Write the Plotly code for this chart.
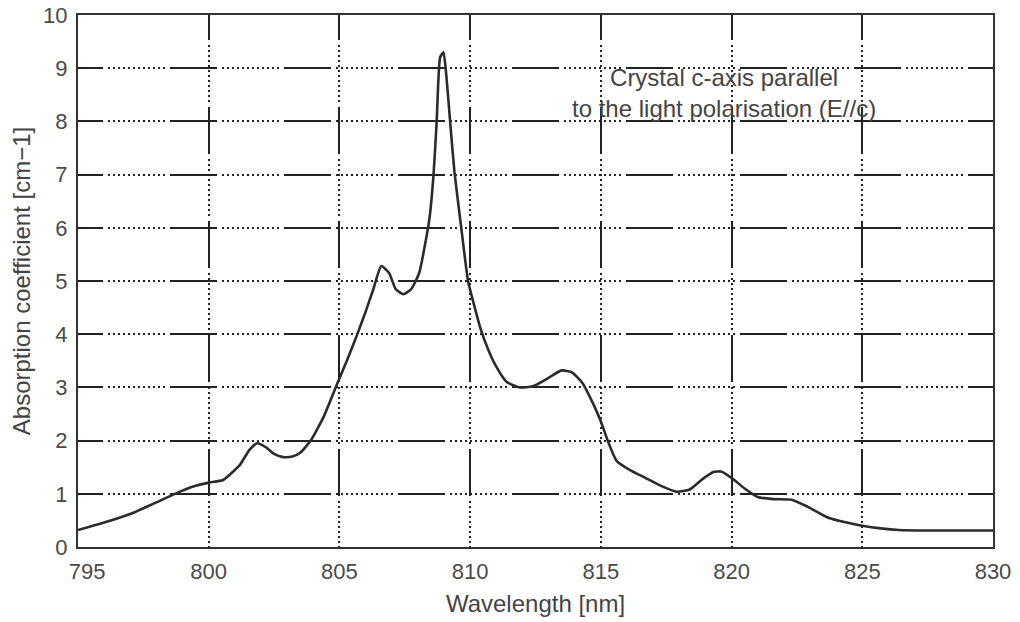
import plotly.graph_objects as go

# Data
wavelength = [795.0, 796.0, 797.1, 798.0, 798.9, 799.5, 800.0, 800.55, 801.2, 801.55, 801.85,
              802.2, 802.5, 802.85, 803.2, 803.5, 803.9, 804.4, 804.9, 805.3, 805.7, 806.0,
              806.3, 806.6, 806.9, 807.15, 807.45, 807.75, 808.05, 808.3, 808.45, 808.6,
              808.72, 808.85, 808.98, 809.1, 809.25, 809.4, 809.66, 809.92, 810.15, 810.4,
              810.7, 811.0, 811.4, 811.9, 812.4, 812.9, 813.5, 813.9, 814.3, 814.7, 815.0,
              815.3, 815.6, 816.1, 816.7, 817.3, 817.9, 818.4, 818.9, 819.3, 819.6, 820.0,
              820.5, 821.0, 821.6, 822.3, 822.9, 823.7, 824.4, 825.0, 825.7, 826.4, 827.5,
              829.0, 830.0]
absorption = [0.32, 0.46, 0.64, 0.84, 1.04, 1.15, 1.21, 1.26, 1.55, 1.82, 1.95,
              1.87, 1.75, 1.69, 1.70, 1.77, 2.0, 2.45, 3.05, 3.52, 4.02, 4.42,
              4.85, 5.28, 5.15, 4.85, 4.75, 4.85, 5.15, 5.75, 6.2, 7.0,
              8.0, 9.2, 9.3, 8.8, 7.9, 7.05, 6.0, 5.0, 4.55, 4.1,
              3.7, 3.39, 3.1, 3.0, 3.02, 3.15, 3.32, 3.28, 3.08, 2.7, 2.36,
              1.95, 1.62, 1.45, 1.3, 1.15, 1.04, 1.08, 1.28, 1.41, 1.42, 1.3,
              1.1, 0.94, 0.9, 0.89, 0.76, 0.55, 0.46, 0.4, 0.35, 0.32, 0.31,
              0.31, 0.31]

x_ticks = [795, 800, 805, 810, 815, 820, 825, 830]
x_tick_text = ["\u00a0\u00a0\u00a0795", "800", "805", "810", "815", "820", "825", "830"]
y_ticks = [0, 1, 2, 3, 4, 5, 6, 7, 8, 9, 10]

note_text = "Crystal c-axis parallel<br>to the light polarisation (E//c)"
x_title = "Wavelength [nm]"
y_title = "Absorption coefficient [cm\u22121]"

dash_pattern = "25px,5px" + ",2px,3px" * 11 + ",2px,5px,22px,0px"

FONT = "Liberation Sans, Arial, sans-serif"

fig = go.Figure()
fig.add_trace(go.Scatter(
    x=wavelength, y=absorption, mode="lines",
    line=dict(color="#2b2b2b", width=2.6, shape="spline", smoothing=0.5),
    showlegend=False, hoverinfo="skip",
))

axis_common = dict(
    showline=True, linecolor="#333333", linewidth=2, mirror=True,
    showgrid=True, gridcolor="#222222", gridwidth=1.5, griddash=dash_pattern,
    zeroline=False, ticks="", automargin=False,
    tickfont=dict(family=FONT, size=22, color="#4a4a4a"),
)

fig.update_layout(
    width=1020, height=622,
    margin=dict(l=78, r=27, t=15, b=75),
    paper_bgcolor="white", plot_bgcolor="white",
    font=dict(family=FONT, color="#444444"),
    xaxis=dict(range=[795, 830], tickvals=x_ticks, ticktext=x_tick_text,
               ticklabelstandoff=4,
               title=dict(text=x_title, font=dict(size=24, color="#444444"), standoff=12),
               **axis_common),
    yaxis=dict(range=[0, 10], tickvals=y_ticks, ticktext=[str(v) for v in y_ticks],
               ticklabelstandoff=4,
               title=dict(text=y_title, font=dict(size=24, color="#444444"), standoff=6),
               **axis_common),
    annotations=[dict(
        x=819.7, y=8.53, xref="x", yref="y", text=note_text, showarrow=False,
        font=dict(family=FONT, size=24, color="#444444"),
        align="center", xanchor="center", yanchor="middle",
    )],
)

fig.write_html("out.html")
